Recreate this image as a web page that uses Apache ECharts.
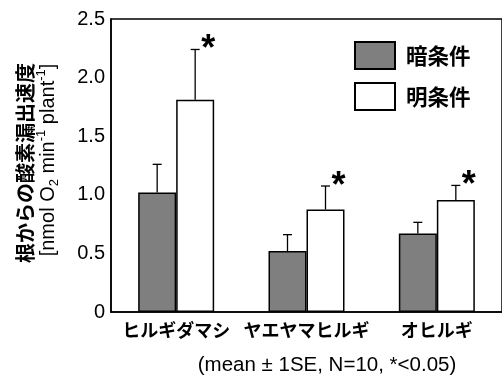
<!DOCTYPE html>
<html>
<head>
<meta charset="utf-8">
<script src="https://cdn.jsdelivr.net/npm/echarts@6/dist/echarts.min.js"></script>
<style>
html,body{margin:0;padding:0;background:#fff;}
#chart{width:502px;height:376px;}
</style>
</head>
<body>
<div id="chart"></div>
<script>
// ---- data ----
const categories = ['ヒルギダマシ', 'ヤエヤマヒルギ', 'オヒルギ'];
const seriesNames = ['暗条件', '明条件'];
const darkMean = [1.02, 0.52, 0.67];
const darkSE = [0.24, 0.14, 0.095];
const lightMean = [1.81, 0.875, 0.955];
const lightSE = [0.43, 0.20, 0.125];
const lightSig = [true, true, true];
const yTickLabels = ['0', '0.5', '1.0', '1.5', '2.0', '2.5'];
const yMax = 2.5, yStep = 0.5;
const yNameLine1 = '根からの酸素漏出速度';
const footnote = '(mean ± 1SE, N=10, *<0.05)';

// ---- styles ----
const BAR_W = 38;
const JP = '"Noto Sans CJK JP", sans-serif';
const LAT = '"Liberation Sans", Arial, sans-serif';
const DARK = '#7f7f7f';

const chart = echarts.init(document.getElementById('chart'), null, {renderer: 'canvas'});

function errSeries(means, ses, offsetSign, sig) {
  return {
    type: 'custom',
    z: 5,
    silent: true,
    data: means.map((m, i) => [i, m, m + ses[i], sig ? (sig[i] ? 1 : 0) : 0]),
    renderItem: function (params, api) {
      const base = api.coord([api.value(0), api.value(1)]);
      const top = api.coord([api.value(0), api.value(2)]);
      const x = base[0] + offsetSign * BAR_W / 2;
      const children = [
        {type: 'line', shape: {x1: x, y1: base[1], x2: x, y2: top[1]}, style: {stroke: '#000', lineWidth: 1.3}},
        {type: 'line', shape: {x1: x - 4.5, y1: top[1], x2: x + 4.5, y2: top[1]}, style: {stroke: '#000', lineWidth: 1.3}}
      ];
      if (api.value(3)) {
        children.push({
          type: 'text',
          style: {
            text: '*', x: x + 13, y: top[1] + 1,
            fontSize: 36, fontWeight: 'bold', fontFamily: LAT, fill: '#000',
            align: 'center', verticalAlign: 'middle'
          }
        });
      }
      return {type: 'group', children: children};
    }
  };
}

const option = {
  animation: false,
  backgroundColor: '#fff',
  grid: {
    left: 111, top: 19, width: 395, height: 293,
    show: true, borderColor: '#000', borderWidth: 1.5, backgroundColor: 'transparent'
  },
  legend: {
    orient: 'vertical',
    left: 354, top: 41, padding: 0,
    itemWidth: 40, itemHeight: 27, itemGap: 12,
    icon: 'rect',
    selectedMode: false,
    textStyle: {fontSize: 21.5, fontFamily: JP, fontWeight: 'bold', color: '#000', padding: [0, 0, 0, 6]},
    data: [
      {name: seriesNames[0], itemStyle: {color: DARK, borderColor: '#000', borderWidth: 2}},
      {name: seriesNames[1], itemStyle: {color: '#fff', borderColor: '#000', borderWidth: 2}}
    ]
  },
  xAxis: {
    type: 'category',
    data: categories,
    axisLine: {lineStyle: {color: '#000', width: 1.5}},
    axisTick: {show: false},
    axisLabel: {fontSize: 18, fontFamily: JP, fontWeight: 'bold', color: '#000', margin: 9, interval: 0}
  },
  yAxis: {
    type: 'value',
    min: 0, max: yMax, interval: yStep,
    axisLine: {show: true, lineStyle: {color: '#000', width: 1.5}},
    axisTick: {show: false},
    splitLine: {show: false},
    axisLabel: {
      fontSize: 20, fontFamily: LAT, color: '#000', margin: 6,
      formatter: function (v) { return yTickLabels[Math.round(v / yStep)]; }
    }
  },
  graphic: [
    {
      type: 'text', x: 25, y: 163, rotation: Math.PI / 2,
      style: {text: yNameLine1, fontSize: 20, fontWeight: 'bold', fontFamily: JP, fill: '#000', align: 'center', verticalAlign: 'middle'}
    },
    {
      type: 'text', x: 48, y: 160, rotation: Math.PI / 2,
      style: {
        text: '[nmol O{sub|2} min{sup|-1} plant{sup|-1}]',
        fontSize: 20, fontFamily: LAT, fill: '#000', align: 'center', verticalAlign: 'middle', lineHeight: 26,
        rich: {
          sub: {fontSize: 13, fontFamily: LAT, verticalAlign: 'bottom', lineHeight: 26, fill: '#000'},
          sup: {fontSize: 13, fontFamily: LAT, verticalAlign: 'top', lineHeight: 26, fill: '#000'}
        }
      }
    },
    {
      type: 'text', x: 327, y: 365,
      style: {text: footnote, fontSize: 20.5, fontFamily: LAT, fill: '#000', align: 'center', verticalAlign: 'middle'}
    }
  ],
  series: [
    {
      name: seriesNames[0], type: 'bar', data: darkMean, barWidth: BAR_W, barGap: '0%',
      itemStyle: {color: DARK, borderColor: '#000', borderWidth: 1.5}
    },
    {
      name: seriesNames[1], type: 'bar', data: lightMean, barWidth: BAR_W, barGap: '0%',
      itemStyle: {color: '#fff', borderColor: '#000', borderWidth: 1.5}
    },
    errSeries(darkMean, darkSE, -1, null),
    errSeries(lightMean, lightSE, 1, lightSig)
  ]
};
chart.setOption(option);
</script>
</body>
</html>
